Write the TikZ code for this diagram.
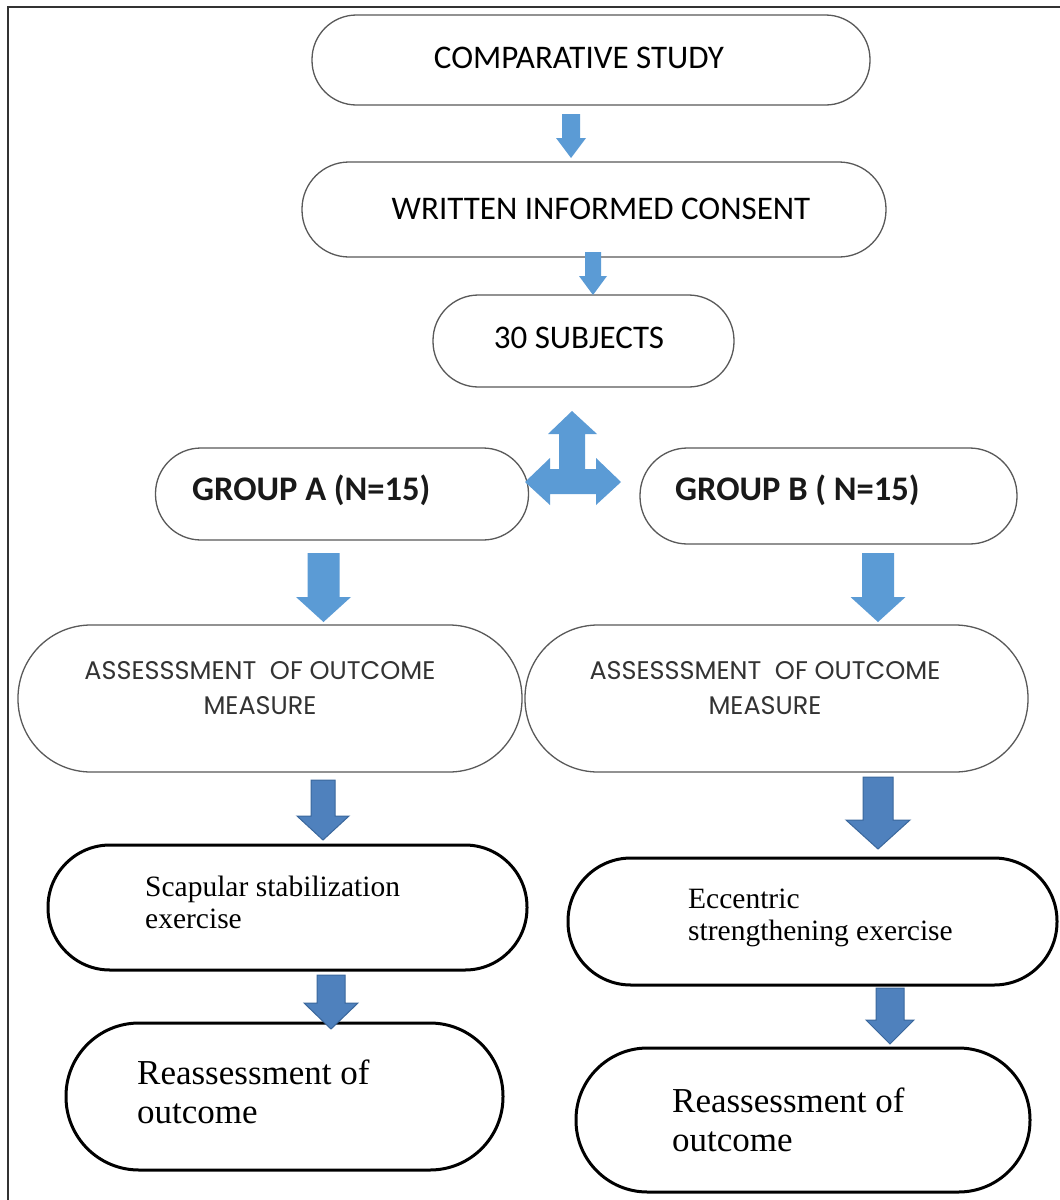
\documentclass[tikz,border=0pt]{standalone}
\usepackage{fontspec}
\setmainfont{Liberation Serif}
\newfontfamily\capfont{Carlito}
\newfontfamily\gothfont{Poppins}
\definecolor{lightarr}{HTML}{5B9BD5}
\definecolor{darkarr}{HTML}{4F81BD}
\definecolor{darkarrline}{HTML}{3A679C}
\definecolor{thinline}{HTML}{595959}
\newcommand{\blkarrow}[7]{%
  \path[#1] (#2-#6,#3) -- (#2+#6,#3) -- (#2+#6,#4) -- (#2+#7,#4) -- (#2,#5) -- (#2-#7,#4) -- (#2-#6,#4) -- cycle;}
\begin{document}
\begin{tikzpicture}[x=1pt,y=-1pt,
  thinbox/.style={draw=thinline, line width=1.3pt, inner sep=0pt, outer sep=0pt},
  thickbox/.style={draw=black, line width=3pt, inner sep=0pt, outer sep=0pt},
  captext/.style={font=\capfont\fontsize{33}{38}\selectfont, inner sep=0pt},
  grptext/.style={font=\capfont\bfseries\fontsize{34.5}{38}\selectfont, inner sep=0pt, text=black!90},
  asstext/.style={font=\gothfont\fontsize{25.5}{35}\selectfont, inner sep=0pt, align=center, text=black!80},
  sertext/.style={font=\fontsize{29.5}{32}\selectfont, inner sep=0pt, align=left},
  bigsertext/.style={font=\fontsize{35}{39}\selectfont, inner sep=0pt, align=left},
  larrow/.style={fill=lightarr},
  darrow/.style={fill=darkarr, draw=darkarrline, line width=1pt}]
\useasboundingbox (0,0) rectangle (1060,1200);
\fill[white] (0,0) rectangle (1060,1200);
% frame
\draw[line width=2pt, black!80] (8,1200) -- (8,7) -- (1060,7);
% boxes
\node[thinbox, minimum width=558, minimum height=90, rounded corners=44.5] (cs) at (591,60) {};
\node[thinbox, minimum width=584, minimum height=95, rounded corners=47] (wic) at (594,209.5) {};
\node[thinbox, minimum width=301, minimum height=92, rounded corners=45.5] (subj) at (583.5,341) {};
\node[thinbox, minimum width=373, minimum height=92, rounded corners=45.5] (ga) at (342,494) {};
\node[thinbox, minimum width=377, minimum height=96, rounded corners=47.5] (gb) at (828.5,496) {};
\node[thinbox, minimum width=504, minimum height=147, rounded corners=73] (aa) at (270,698.5) {};
\node[thinbox, minimum width=503, minimum height=147, rounded corners=73] (ab) at (776.5,698.5) {};
\node[thickbox, minimum width=479, minimum height=125, rounded corners=62] (sa) at (287.5,907.5) {};
\node[thickbox, minimum width=489, minimum height=127, rounded corners=63] (sb) at (812.5,921.5) {};
\node[thickbox, minimum width=437, minimum height=147, rounded corners=73] (ra) at (284.5,1096.5) {};
\node[thickbox, minimum width=454, minimum height=144, rounded corners=71.5] (rb) at (803,1120) {};
% texts
\node[captext] (tcs) at (579,58) {COMPARATIVE STUDY};
\node[captext] (twic) at (601,209) {WRITTEN INFORMED CONSENT};
\node[captext] (tsubj) at (579,338) {30 SUBJECTS};
\node[grptext, anchor=west] (tga) at (192,490) {GROUP A (N=15)};
\node[grptext, anchor=west] (tgb) at (675,490) {GROUP B ( N=15)};
\node[asstext] (taa) at (260,688) {ASSESSSMENT\ \ OF OUTCOME\\MEASURE};
\node[asstext] (tab) at (765,688) {ASSESSSMENT\ \ OF OUTCOME\\MEASURE};
\node[sertext, anchor=west] (tsa) at (145,902) {Scapular stabilization\\exercise};
\node[sertext, anchor=west] (tsb) at (688,918) {Eccentric\\strengthening exercise};
\node[bigsertext, anchor=west] (tra) at (137,1092) {Reassessment of\\outcome};
\node[bigsertext, anchor=west] (trb) at (672,1120) {Reassessment of\\outcome};
% arrows
\blkarrow{larrow}{571}{114}{138}{158}{9}{15}
\blkarrow{larrow}{593}{252}{276}{295}{8}{14}
\blkarrow{larrow}{323.5}{553}{597}{622}{16}{27.5}
\blkarrow{larrow}{878}{553}{597}{622}{16}{27.5}
\blkarrow{darrow}{323}{780}{816}{840}{12}{26}
\blkarrow{darrow}{878}{777}{820}{849}{15}{32}
\blkarrow{darrow}{331}{975}{1003}{1029}{14}{27}
\blkarrow{darrow}{890}{988}{1020}{1044}{14}{24}
% triple arrow
\fill[lightarr] (572,411) -- (597,434) -- (585,434) -- (585,469) -- (596,469) -- (596,458) -- (621,482) -- (596,505) -- (596,494) -- (550,494) -- (550,505) -- (525,482) -- (550,458) -- (550,469) -- (559,469) -- (559,434) -- (548,434) -- cycle;
\end{tikzpicture}
\end{document}
